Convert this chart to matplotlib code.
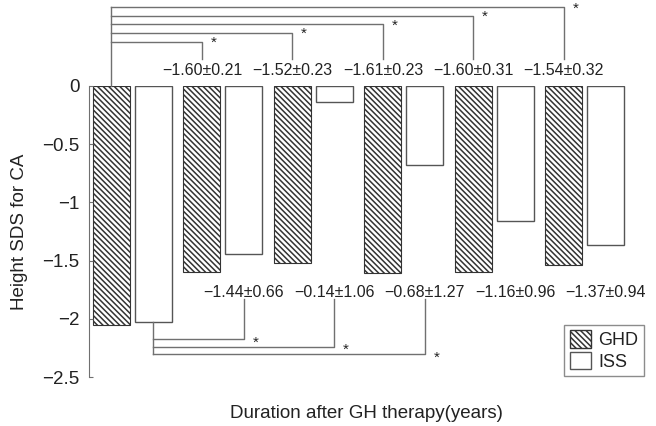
import numpy as np
import matplotlib
matplotlib.use('Agg')
import matplotlib.pyplot as plt
from matplotlib.patches import Patch

plt.rcParams['font.family'] = ['Liberation Sans', 'DejaVu Sans']
plt.rcParams['hatch.linewidth'] = 1.1
plt.rcParams['hatch.color'] = '#222222'

# mean height SDS per period (first group = before therapy)
ghd = [-2.05, -1.60, -1.52, -1.61, -1.60, -1.54]
iss = [-2.03, -1.44, -0.14, -0.68, -1.16, -1.37]
ghd_sd = [0.21, 0.23, 0.23, 0.31, 0.32]
iss_sd = [0.66, 1.06, 1.27, 0.96, 0.94]
ghd_sig = [1, 2, 3, 4, 5]     # groups significantly different from baseline
iss_sig = [1, 2, 3]
yticks = [-2.5, -2, -1.5, -1, -0.5, 0]

txt = '#222222'
gray = '#707070'
hatch = '\\' * 6


def fmt(m, s):
    return ('%.2f' % m).replace('-', '\u2212') + '\u00b1' + '%.2f' % s


fig = plt.figure(figsize=(6.56, 4.26), dpi=100)
ax = fig.add_axes([89 / 656, 49 / 426, 561 / 656, 291 / 426])

x = np.arange(len(ghd))
w = 0.41
off = 0.232
ax.bar(x - off, ghd, w, color='white', edgecolor='#333333', hatch=hatch,
       linewidth=0.8)
ax.bar(x + off, iss, w, color='white', edgecolor='#555555', linewidth=1.0)

ax.set_xlim(-0.48, 5.72)
ax.set_ylim(-2.5, 0)
ax.set_yticks(yticks)
ax.set_yticklabels([('%g' % t).replace('-', '\u2212') for t in yticks])
ax.tick_params(axis='y', direction='in', length=3, pad=7, labelsize=13.5,
               colors=gray, labelcolor=txt)
ax.set_xticks([])
for s in ['top', 'right', 'bottom']:
    ax.spines[s].set_visible(False)
ax.spines['left'].set_color(gray)

# labels above / below the bars
for i in range(1, len(ghd)):
    ax.text(x[i] - off, 0.137, fmt(ghd[i], ghd_sd[i - 1]), ha='center',
            va='center', fontsize=11.5, color=txt, clip_on=False)
    ax.text(x[i] + off, -1.77, fmt(iss[i], iss_sd[i - 1]), ha='center',
            va='center', fontsize=11.5, color=txt, clip_on=False)

# significance brackets, GHD on top
kw = dict(color=gray, lw=1.0, clip_on=False)
levels = [0.381 + 0.074 * k for k in range(len(ghd_sig))]
ax.plot([x[0] - off, x[0] - off], [0, levels[-1]], **kw)
for g, lv in zip(ghd_sig, levels):
    ax.plot([x[0] - off, x[g] - off, x[g] - off], [lv, lv, 0.232], **kw)
    ax.text(x[g] - off + 0.13, lv - 0.01, '*', ha='center', va='center',
            fontsize=11, color=txt)

# ISS below
levels = [-2.173 - 0.065 * k for k in range(len(iss_sig))]
ax.plot([x[0] + off, x[0] + off], [iss[0], levels[-1]], **kw)
for g, lv in zip(iss_sig, levels):
    ax.plot([x[0] + off, x[g] + off, x[g] + off], [lv, lv, -1.83], **kw)
    ax.text(x[g] + off + 0.13, lv - 0.03, '*', ha='center', va='center',
            fontsize=11, color=txt)

fig.text(20 / 656, 1 - 232 / 426, 'Height SDS for CA', rotation=90,
         ha='center', va='center', fontsize=13.5, color=txt)
fig.text(366 / 656, 1 - 413 / 426, 'Duration after GH therapy(years)',
         ha='center', va='center', fontsize=13.5, color=txt)

handles = [Patch(facecolor='white', edgecolor='#333333', hatch=hatch,
                 label='GHD'),
           Patch(facecolor='white', edgecolor='#555555', label='ISS')]
leg = fig.legend(handles=handles, loc='lower right',
                 bbox_to_anchor=(644 / 656, 1 - 376 / 426), fontsize=13,
                 fancybox=False, edgecolor=gray, handlelength=1.2,
                 handleheight=1.1, handletextpad=0.4, borderpad=0.3,
                 labelspacing=0.15, borderaxespad=0)
leg.get_frame().set_linewidth(1.0)
for t in leg.get_texts():
    t.set_color(txt)

fig.savefig('out.png', dpi=100)
